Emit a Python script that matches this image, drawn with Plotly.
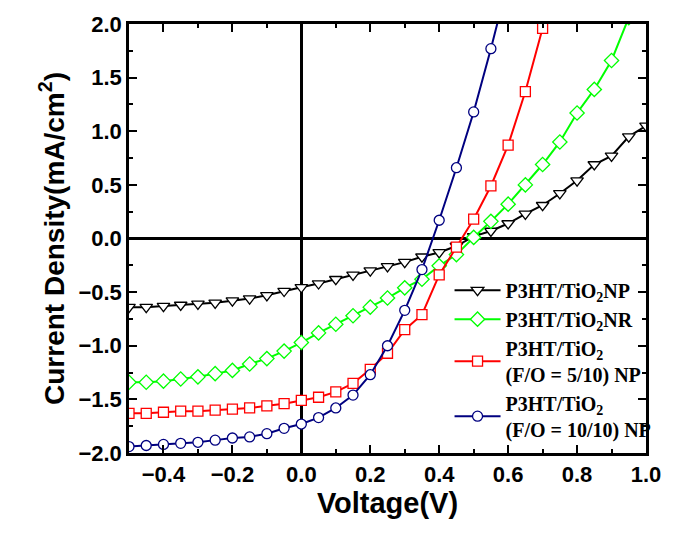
import plotly.graph_objects as go

V = [round(-0.5 + 0.05 * i, 2) for i in range(31)]

J_np = [-0.64, -0.64, -0.63, -0.62, -0.61, -0.60, -0.58, -0.56, -0.53, -0.49,
        -0.455, -0.42, -0.38, -0.34, -0.30, -0.26, -0.22, -0.17, -0.13, -0.07,
        0.02, 0.07, 0.14, 0.23, 0.31, 0.42, 0.54, 0.69, 0.77, 0.95, 1.05]
J_nr = [-1.34, -1.34, -1.33, -1.31, -1.29, -1.26, -1.23, -1.17, -1.12, -1.05,
        -0.97, -0.88, -0.80, -0.72, -0.64, -0.555, -0.46, -0.38, -0.255, -0.15,
        0.01, 0.16, 0.32, 0.50, 0.69, 0.90, 1.17, 1.39, 1.66, 2.06]
J_f5 = [-1.63, -1.63, -1.62, -1.61, -1.61, -1.60, -1.59, -1.58, -1.56, -1.54,
        -1.51, -1.48, -1.43, -1.35, -1.22, -1.07, -0.85, -0.71, -0.34, -0.08,
        0.18, 0.49, 0.87, 1.37, 1.96]
J_f10 = [-1.94, -1.93, -1.92, -1.91, -1.90, -1.88, -1.86, -1.85, -1.82, -1.77,
         -1.73, -1.67, -1.58, -1.46, -1.27, -1.00, -0.67, -0.29, 0.17, 0.66,
         1.18, 1.77, 2.40]

names = ["P3HT/TiO<sub>2</sub>NP",
         "P3HT/TiO<sub>2</sub>NR",
         "P3HT/TiO<sub>2</sub><br>(F/O = 5/10) NP",
         "P3HT/TiO<sub>2</sub><br>(F/O = 10/10) NP"]
colors = ["#000000", "#00ff00", "#ff0000", "#000080"]
symbols = ["triangle-down", "diamond", "square", "circle"]
sizes = [11, 11, 10, 10]
series = [J_np, J_nr, J_f5, J_f10]

fig = go.Figure()
for nm, c, s, sz, J in zip(names, colors, symbols, sizes, series):
    fig.add_trace(go.Scatter(
        x=V[:len(J)], y=J, name=nm, mode="lines+markers",
        line=dict(color=c, width=2),
        marker=dict(symbol=s, size=sz, color="white", line=dict(color=c, width=1.3)),
    ))

tickfont = dict(family="Liberation Sans, Arial", size=22, color="black", weight="bold")
fig.update_layout(
    width=673, height=538,
    margin=dict(l=129, r=21, t=20, b=85),
    plot_bgcolor="white", paper_bgcolor="white",
    showlegend=True,
    legend=dict(x=0.62, y=0.425, xanchor="left", yanchor="top",
                bgcolor="rgba(0,0,0,0)", itemwidth=46,
                font=dict(family="Liberation Serif, Times New Roman", size=20,
                          color="black", weight="bold"),
                tracegroupgap=6),
)
fig.update_xaxes(
    range=[-0.5, 1.0], tickvals=[-0.4, -0.2, 0.0, 0.2, 0.4, 0.6, 0.8, 1.0],
    tickformat=".1f", ticks="inside", ticklen=8, tickwidth=2, tickcolor="black",
    minor=dict(ticks="inside", ticklen=4, dtick=0.1, tick0=0, tickcolor="black", tickwidth=1.5),
    showline=True, linecolor="black", linewidth=2.5, mirror="allticks",
    showgrid=False, zeroline=True, zerolinecolor="black", zerolinewidth=2.5,
    tickfont=tickfont,
    title=dict(text="Voltage(V)", font=dict(family="Liberation Sans, Arial", size=29,
                                             color="black", weight="bold"), standoff=4),
)
fig.update_yaxes(
    range=[-2.0, 2.0], dtick=0.5, tick0=0, tickformat=".1f",
    ticks="inside", ticklen=8, tickwidth=2, tickcolor="black",
    minor=dict(ticks="inside", ticklen=4, dtick=0.25, tick0=0, tickcolor="black", tickwidth=1.5),
    showline=True, linecolor="black", linewidth=2.5, mirror="allticks",
    showgrid=False, zeroline=True, zerolinecolor="black", zerolinewidth=2.5,
    tickfont=tickfont,
    title=dict(text="Current Density(mA/cm<sup>2</sup>)",
               font=dict(family="Liberation Sans, Arial", size=28, color="black", weight="bold"),
               standoff=6),
)
fig.write_html("out.html")
